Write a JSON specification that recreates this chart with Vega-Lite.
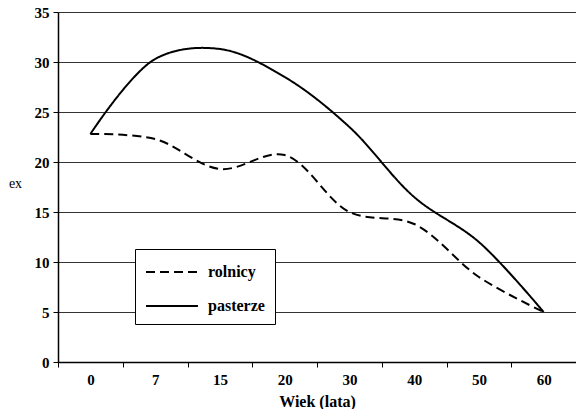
{
  "$schema": "https://vega.github.io/schema/vega-lite/v6.json",
  "width": 518,
  "height": 350,
  "padding": {"left": 8, "top": 5, "right": 0, "bottom": 0},
  "autosize": {"type": "pad"},
  "background": "white",
  "config": {
    "view": {"stroke": null},
    "font": "Liberation Serif"
  },
  "data": {
    "values": [
      {"wiek": "0", "grupa": "pasterze", "ex": 22.8},
      {"wiek": "7", "grupa": "pasterze", "ex": 30.3},
      {"wiek": "15", "grupa": "pasterze", "ex": 31.3},
      {"wiek": "20", "grupa": "pasterze", "ex": 28.5},
      {"wiek": "30", "grupa": "pasterze", "ex": 23.5},
      {"wiek": "40", "grupa": "pasterze", "ex": 16.5},
      {"wiek": "50", "grupa": "pasterze", "ex": 12.0},
      {"wiek": "60", "grupa": "pasterze", "ex": 5.0},
      {"wiek": "0", "grupa": "rolnicy", "ex": 22.8},
      {"wiek": "7", "grupa": "rolnicy", "ex": 22.3},
      {"wiek": "15", "grupa": "rolnicy", "ex": 19.3},
      {"wiek": "20", "grupa": "rolnicy", "ex": 20.7},
      {"wiek": "30", "grupa": "rolnicy", "ex": 15.0},
      {"wiek": "40", "grupa": "rolnicy", "ex": 13.8},
      {"wiek": "50", "grupa": "rolnicy", "ex": 8.5},
      {"wiek": "60", "grupa": "rolnicy", "ex": 5.0}
    ]
  },
  "mark": {"type": "line", "interpolate": "catmull-rom", "color": "black", "strokeWidth": 2},
  "encoding": {
    "x": {
      "field": "wiek",
      "type": "ordinal",
      "sort": ["0", "7", "15", "20", "30", "40", "50", "60"],
      "scale": {"type": "band", "paddingInner": 0, "paddingOuter": 0},
      "axis": {
        "title": "Wiek (lata)",
        "titleFont": "Liberation Serif",
        "titleFontSize": 16,
        "titleFontWeight": "bold",
        "titleColor": "black",
        "titlePadding": 6,
        "labelAngle": 0,
        "labelFont": "Liberation Serif",
        "labelFontSize": 15,
        "labelFontWeight": "bold",
        "labelColor": "black",
        "labelPadding": 5,
        "tickBand": "extent",
        "tickColor": "black",
        "tickSize": 5,
        "domainColor": "black",
        "domainWidth": 1.5,
        "grid": false
      }
    },
    "y": {
      "field": "ex",
      "type": "quantitative",
      "scale": {"domain": [0, 35], "nice": false},
      "axis": {
        "values": [0, 5, 10, 15, 20, 25, 30, 35],
        "title": "ex",
        "titleAngle": 0,
        "titleFont": "Liberation Serif",
        "titleFontSize": 14,
        "titleFontWeight": "normal",
        "titleColor": "black",
        "titleX": -43,
        "titleY": 171,
        "titleAlign": "center",
        "titleBaseline": "middle",
        "labelFont": "Liberation Serif",
        "labelFontSize": 15,
        "labelFontWeight": "bold",
        "labelColor": "black",
        "labelPadding": 4,
        "tickColor": "black",
        "tickSize": 5,
        "domainColor": "black",
        "domainWidth": 1.5,
        "grid": true,
        "gridColor": "black",
        "gridWidth": 1,
        "gridOpacity": 0.8
      }
    },
    "strokeDash": {
      "field": "grupa",
      "type": "nominal",
      "scale": {"domain": ["rolnicy", "pasterze"], "range": [[9, 5], [1, 0]]},
      "legend": {
        "title": null,
        "orient": "none",
        "legendX": 77,
        "legendY": 237,
        "direction": "vertical",
        "fillColor": "white",
        "strokeColor": "black",
        "padding": 10,
        "rowPadding": 13,
        "symbolType": "M-1,0H3.33",
        "symbolSize": 576,
        "symbolStrokeWidth": 2,
        "symbolStrokeColor": "black",
        "symbolFillColor": "transparent",
        "labelFont": "Liberation Serif",
        "labelFontSize": 16,
        "labelFontWeight": "bold",
        "labelColor": "black",
        "labelOffset": 37
      }
    }
  }
}
